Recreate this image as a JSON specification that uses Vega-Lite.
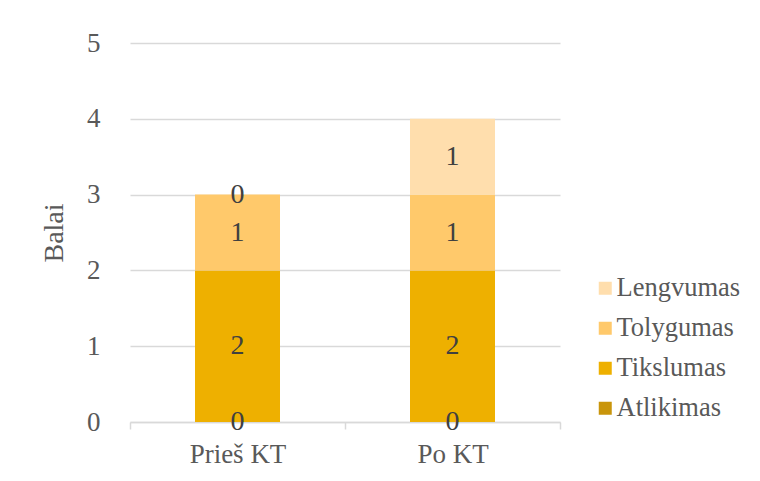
{
  "$schema": "https://vega.github.io/schema/vega-lite/v6.json",
  "width": 430,
  "height": 379,
  "autosize": "none",
  "padding": {"left": 130, "top": 43, "right": 200, "bottom": 59},
  "background": "white",
  "config": {
    "font": "Liberation Serif",
    "view": {"stroke": null}
  },
  "data": {
    "values": [
      {"grupe": "Prieš KT", "kriterijus": "Atlikimas", "eile": 1, "balai": 0},
      {"grupe": "Prieš KT", "kriterijus": "Tikslumas", "eile": 2, "balai": 2},
      {"grupe": "Prieš KT", "kriterijus": "Tolygumas", "eile": 3, "balai": 1},
      {"grupe": "Prieš KT", "kriterijus": "Lengvumas", "eile": 4, "balai": 0},
      {"grupe": "Po KT", "kriterijus": "Atlikimas", "eile": 1, "balai": 0},
      {"grupe": "Po KT", "kriterijus": "Tikslumas", "eile": 2, "balai": 2},
      {"grupe": "Po KT", "kriterijus": "Tolygumas", "eile": 3, "balai": 1},
      {"grupe": "Po KT", "kriterijus": "Lengvumas", "eile": 4, "balai": 1}
    ]
  },
  "transform": [
    {"stack": "balai", "groupby": ["grupe"], "sort": [{"field": "eile", "order": "ascending"}], "as": ["y0", "y1"]},
    {"calculate": "(datum.y0 + datum.y1) / 2", "as": "ymid"}
  ],
  "encoding": {
    "x": {
      "field": "grupe",
      "type": "nominal",
      "sort": ["Prieš KT", "Po KT"],
      "scale": {"paddingInner": 0, "paddingOuter": 0},
      "axis": {
        "title": null,
        "labelAngle": 0,
        "labelFontSize": 27,
        "labelColor": "#595959",
        "labelPadding": 12,
        "domainColor": "#d9d9d9",
        "domainWidth": 1.5,
        "tickColor": "#d9d9d9",
        "tickWidth": 1.5,
        "tickSize": 7,
        "tickBand": "extent",
        "grid": false
      }
    }
  },
  "layer": [
    {
      "mark": {"type": "bar", "width": 85},
      "encoding": {
        "y": {
          "field": "y1",
          "type": "quantitative",
          "scale": {"domain": [0, 5]},
          "axis": {
            "title": "Balai",
            "titleFontSize": 28,
            "titleFontWeight": "normal",
            "titleColor": "#595959",
            "titlePadding": 18,
            "labelFontSize": 27,
            "labelColor": "#595959",
            "labelPadding": 30,
            "values": [0, 1, 2, 3, 4, 5],
            "labelOverlap": false,
            "domain": false,
            "ticks": false,
            "gridColor": "#d9d9d9",
            "gridWidth": 1.5
          }
        },
        "y2": {"field": "y0"},
        "color": {
          "field": "kriterijus",
          "type": "nominal",
          "scale": {
            "domain": ["Lengvumas", "Tolygumas", "Tikslumas", "Atlikimas"],
            "range": ["#FFDEAD", "#FFC96B", "#EEB000", "#C9950B"]
          },
          "legend": {
            "title": null,
            "orient": "none",
            "legendX": 462,
            "legendY": 232,
            "symbolType": "square",
            "symbolSize": 169,
            "symbolStrokeWidth": 0,
            "labelFontSize": 26.5,
            "labelColor": "#595959",
            "labelOffset": -2,
            "rowPadding": 13
          }
        }
      }
    },
    {
      "mark": {"type": "text", "fontSize": 28, "color": "#404040", "baseline": "middle"},
      "encoding": {
        "y": {
          "field": "ymid",
          "type": "quantitative",
          "axis": {
            "title": "Balai",
            "titleFontSize": 28,
            "titleFontWeight": "normal",
            "titleColor": "#595959",
            "titlePadding": 18,
            "labelFontSize": 27,
            "labelColor": "#595959",
            "labelPadding": 30,
            "values": [0, 1, 2, 3, 4, 5],
            "labelOverlap": false,
            "domain": false,
            "ticks": false,
            "gridColor": "#d9d9d9",
            "gridWidth": 1.5
          }
        },
        "text": {"field": "balai", "type": "quantitative"}
      }
    }
  ]
}
